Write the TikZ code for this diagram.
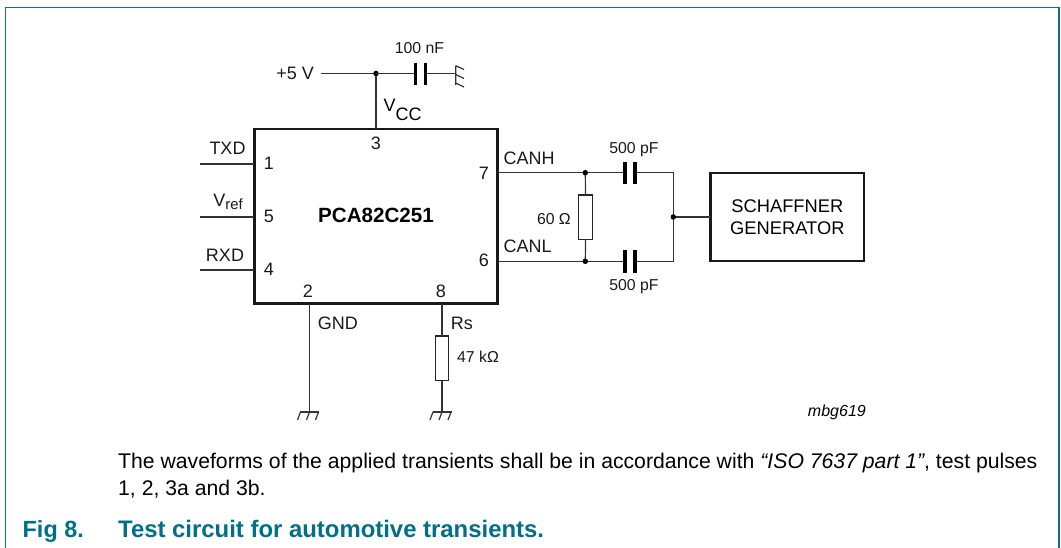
\documentclass[tikz,border=0pt]{standalone}
\usepackage{fontspec}
\setmainfont{Liberation Sans}
\usetikzlibrary{calc}
\definecolor{teal8}{HTML}{00708A}
\definecolor{frame8}{HTML}{0F6F88}
\tikzset{
 x=1pt,y=-1pt,
 wire/.style={line width=1.2pt,black!80},
 thick box/.style={draw=black!90,line width=2.6pt,fill=none,outer sep=0pt},
 res/.style={draw=black!85,line width=1.2pt,fill=white,outer sep=0pt},
 plate/.style={line width=3.6pt,black},
 lbl/.style={font=\fontsize{18}{21}\selectfont,inner sep=0pt,text=black!90},
 small/.style={font=\fontsize{15.8}{18}\selectfont,inner sep=0pt,text=black!90},
 dot/.style={circle,fill=black,inner sep=0pt,minimum size=5.5pt}
}
\newcommand{\gndmark}[1]{%
 \draw[wire] ($(#1)+(-9.5,0)$) -- ($(#1)+(9.5,0)$);
 \foreach \q in {-9,0,9}{\draw[wire] ($(#1)+(\q,0)$) -- ($(#1)+(\q-3,8)$);}}
\begin{document}
\begin{tikzpicture}
\useasboundingbox (0,0) rectangle (1061,548);
% frame
\draw[frame8,line width=1.7pt] (5.5,548) -- (5.5,7.5) -- (1059.3,7.5) -- (1059.3,548);
% IC
\node[thick box,minimum width=243.3pt,minimum height=174.5pt,inner sep=0pt,anchor=north west] (ic) at (254.3,129) {};
\node[font=\fontsize{20.6}{24}\selectfont\bfseries,inner sep=0pt] (icname) at (376,215) {PCA82C251};
% supply
\node[lbl,anchor=east] (vp) at (314,73.5) {+5 V};
\coordinate (jone) at (376,73.5);
\coordinate (pthree) at (376,129);
\draw[wire] (320.5,73.5) -- (jone);
\draw[wire] (jone) -- (pthree);
\node[dot] (dj1) at (jone) {};
\draw[wire] (jone) -- (415,73.5) (425,73.5) -- (455.7,73.5);
\draw[plate] (415.3,63) -- (415.3,85) (425.3,63) -- (425.3,85);
\draw[wire] (455.7,65.7) -- (455.7,85) (455.7,65.7) -- (464,69.5) (455.7,74.5) -- (464,78.5) (455.7,83) -- (464,87);
\node[small] (l100) at (419.5,48.5) {100 nF};
\node[inner sep=0pt,anchor=base west,font=\fontsize{18}{20}\selectfont] (vcc) at (383.5,111.7) {V\raisebox{-9pt}{CC}};
\node[lbl] (n3) at (376,143.5) {3};
% left pins
\coordinate (tone) at (199.5,164);
\coordinate (tfive) at (199.5,217);
\coordinate (tfour) at (199.5,270);
\draw[wire] (tone) -- (254.3,164);
\draw[wire] (tfive) -- (254.3,217);
\draw[wire] (tfour) -- (254.3,270);
\node[lbl] (txd) at (227.5,148.5) {TXD};
\node[lbl,anchor=base] (vref) at (228,207) {V\raisebox{-2.5pt}{\fontsize{14.8}{16}\selectfont ref}};
\node[lbl] (rxd) at (225,255) {RXD};
\node[lbl] (n1) at (269,163.5) {1};
\node[lbl] (n5) at (269,216) {5};
\node[lbl] (n4) at (269,269.5) {4};
\node[lbl] (n2) at (308,291) {2};
\node[lbl] (n8) at (441,291) {8};
\node[lbl] (n7) at (484,173) {7};
\node[lbl] (n6) at (484,260) {6};
% GND
\coordinate (gtwo) at (309.5,412);
\draw[wire] (309.5,304) -- (gtwo);
\gndmark{gtwo}
\node[lbl,anchor=west] (gnd) at (317.7,323.5) {GND};
% Rs
\node[res,minimum width=13.4pt,minimum height=44.7pt,inner sep=0pt] (r47) at (442,358.3) {};
\coordinate (gthree) at (442,412);
\draw[wire] (442,304) -- (r47.north);
\draw[wire] (r47.south) -- (gthree);
\gndmark{gthree}
\node[lbl,anchor=west] (rs) at (450.7,323.5) {Rs};
\node[small,anchor=west] (l47) at (457,356.7) {47 kΩ};
% CAN
\coordinate (jh) at (585.3,172.7);
\coordinate (jl) at (585.3,261.3);
\node[res,minimum width=13.4pt,minimum height=44.3pt,inner sep=0pt] (r60) at (585.5,217.2) {};
\draw[wire] (jh) -- (r60.north);
\draw[wire] (r60.south) -- (jl);
\coordinate (jm) at (673.3,217);
\draw[wire] (497.5,172.7) -- (625,172.7) (635,172.7) -- (673.3,172.7) -- (673.3,261.3) -- (635,261.3) (625,261.3) -- (497.5,261.3);
\draw[plate] (625,162.3) -- (625,184.3) (635,162.3) -- (635,184.3) (625,250.5) -- (625,272.7) (635,250.5) -- (635,272.7);
\node[dot] at (jh) {};
\node[dot] at (jl) {};
\node[thick box,minimum width=153.3pt,minimum height=88pt,inner sep=0pt,anchor=north west,align=center,font=\fontsize{18.3}{22}\selectfont] (gen) at (710.7,173) {SCHAFFNER\\GENERATOR};
\draw[wire] (jm) -- (gen.west);
\node[dot] at (jm) {};
\node[lbl,anchor=west] (canh) at (503.3,158.5) {CANH};
\node[lbl,anchor=west] (canl) at (503.3,246.5) {CANL};
\node[small] (l5a) at (634,150) {500 pF};
\node[small] (l5b) at (634,286.7) {500 pF};
\node[small,anchor=east] (l60) at (571,219) {60 Ω};
\node[anchor=base east,inner sep=0pt,font=\fontsize{16}{18}\selectfont\itshape] (mbg) at (866,416) {mbg619};
% text
\node[anchor=base west,inner sep=0pt,font=\fontsize{21.2}{24}\selectfont] (ta) at (118,468.5) {The waveforms of the applied transients shall be in accordance with {\itshape “ISO 7637 part 1”}, test pulses};
\node[anchor=base west,inner sep=0pt,font=\fontsize{21.2}{24}\selectfont] (tb) at (118,495.5) {1, 2, 3a and 3b.};
\node[anchor=base west,inner sep=0pt,font=\fontsize{23.4}{26}\selectfont\bfseries,text=teal8] (fa) at (22.5,537.5) {Fig 8.};
\node[anchor=base west,inner sep=0pt,font=\fontsize{23.9}{26}\selectfont\bfseries,text=teal8] (fb) at (118,537.5) {Test circuit for automotive transients.};
\end{tikzpicture}
\end{document}
